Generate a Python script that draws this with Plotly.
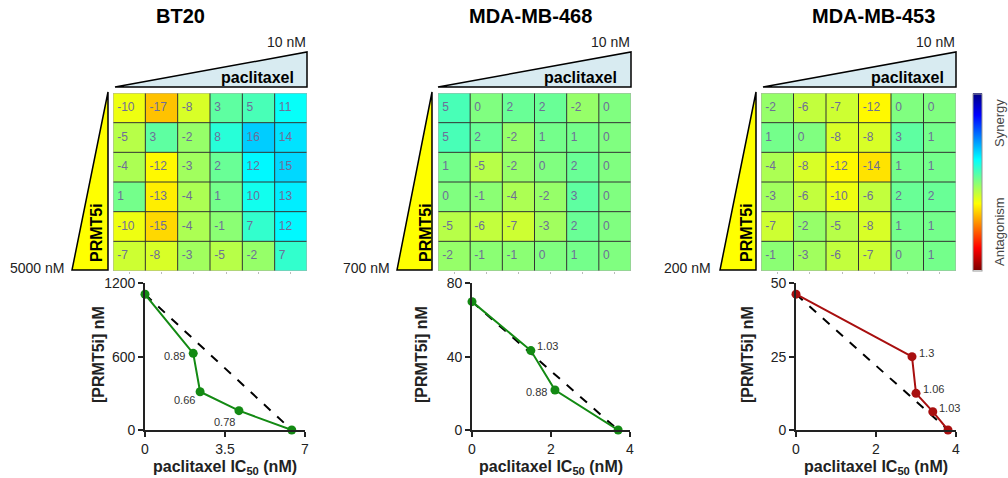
import plotly.graph_objects as go

# ---------------- data ----------------
cell_lines = ["BT20", "MDA-MB-468", "MDA-MB-453"]
prmt_max_labels = ["5000 nM", "700 nM", "200 nM"]
pac_max_label = "10 nM"

bt20_grid = [[-10, -17, -8, 3, 5, 11],
             [-5, 3, -2, 8, 16, 14],
             [-4, -12, -3, 2, 12, 15],
             [1, -13, -4, 1, 10, 13],
             [-10, -15, -4, -1, 7, 12],
             [-7, -8, -3, -5, -2, 7]]
mda468_grid = [[5, 0, 2, 2, -2, 0],
               [5, 2, -2, 1, 1, 0],
               [1, -5, -2, 0, 2, 0],
               [0, -1, -4, -2, 3, 0],
               [-5, -6, -7, -3, 2, 0],
               [-2, -1, -1, 0, 1, 0]]
mda453_grid = [[-2, -6, -7, -12, 0, 0],
               [1, 0, -8, -8, 3, 1],
               [-4, -8, -12, -14, 1, 1],
               [-3, -6, -10, -6, 2, 2],
               [-7, -2, -5, -8, 1, 1],
               [-1, -3, -6, -7, 0, 1]]

bt20_x = [0, 2.11, 2.41, 4.11, 6.42]
bt20_y = [1110, 627, 313, 158, 0]
bt20_ci = ["", "0.89", "0.66", "0.78", ""]
mda468_x = [0, 1.49, 2.1, 3.7]
mda468_y = [70, 43.3, 21.8, 0]
mda468_ci = ["", "1.03", "0.88", ""]
mda453_x = [0, 2.9, 3.0, 3.42, 3.8]
mda453_y = [46.3, 25, 12.5, 6.25, 0]
mda453_ci = ["", "1.3", "1.06", "1.03", ""]

x_ranges = [[0, 7], [0, 4], [0, 4]]
x_ticks = [[0, 3.5, 7], [0, 2, 4], [0, 2, 4]]
y_ranges = [[0, 1200], [0, 80], [0, 50]]
y_ticks = [[0, 600, 1200], [0, 40, 80], [0, 25, 50]]

# ---------------- style / layout ----------------
W, H = 1008, 478
FONT = "Arial, Liberation Sans, sans-serif"
def fx(px): return px / W
def fy(py): return 1 - py / H

# MATLAB-style jet, reversed so that antagonism (negative) is red
cscale = [[0.0, "rgb(128,0,0)"], [0.125, "rgb(255,0,0)"], [0.375, "rgb(255,255,0)"],
          [0.625, "rgb(0,255,255)"], [0.875, "rgb(0,0,255)"], [1.0, "rgb(0,0,128)"]]

grids = [bt20_grid, mda468_grid, mda453_grid]
iso_x = [bt20_x, mda468_x, mda453_x]
iso_y = [bt20_y, mda468_y, mda453_y]
iso_ci = [bt20_ci, mda468_ci, mda453_ci]
line_colors = ["#138a13", "#138a13", "#a80f0f"]
# label placement: (xanchor, xshift px, yshift px)
ci_place = [[None, ("right", -6, -3), ("right", -3, -8), ("right", -2, -11), None],
            [None, ("left", 4, 5), ("right", -6, -2), None],
            [None, ("left", 5, 4), ("left", 5, 4), ("left", 4, 4), None]]

hm_x = [(113, 307), (438, 631), (761, 956)]
hm_y = (93, 271)
ln_x = [(145, 305), (472, 630), (796, 956)]
ln_y = (283.3, 430)
title_x = [180, 530, 873]
tri_pac_left = [115, 438, 763]
tri_prmt = [(108, 72), (432, 397), (756, 720)]
prmt_text_x = [96, 425, 746]
pac_text_right = [296, 619, 946]
prmt_lab_right = [66, 392, 713]
ytitle_x = [98, 421, 747]

fig = go.Figure()
layout = dict(width=W, height=H, margin=dict(l=0, r=0, t=0, b=0, autoexpand=False),
              paper_bgcolor="white", plot_bgcolor="white",
              showlegend=False, font=dict(family=FONT, color="#222"))
shapes, annos = [], []

def note(text, px, py, size, color="#222", xanchor="center", angle=0):
    return dict(text=text, x=fx(px), y=fy(py), xref="paper", yref="paper",
                xanchor=xanchor, yanchor="middle", textangle=angle,
                showarrow=False, font=dict(size=size, color=color))

for i in range(3):
    hx = f"x{2*i+1}" if i else "x"
    hy = f"y{2*i+1}" if i else "y"
    lx = f"x{2*i+2}"
    ly = f"y{2*i+2}"
    hxa = "xaxis" + (str(2*i+1) if i else "")
    hya = "yaxis" + (str(2*i+1) if i else "")
    lxa = "xaxis" + str(2*i+2)
    lya = "yaxis" + str(2*i+2)
    z = grids[i]
    n = len(z)
    fig.add_trace(go.Heatmap(z=z, x=list(range(n)), y=list(range(n)),
                             coloraxis="coloraxis", xaxis=hx, yaxis=hy,
                             hoverinfo="skip"))
    tx, ty, tt = [], [], []
    for r in range(n):
        for c in range(n):
            tx.append(c - 0.37); ty.append(r); tt.append(str(z[r][c]))
    fig.add_trace(go.Scatter(x=tx, y=ty, text=tt, mode="text",
                             textposition="middle right",
                             textfont=dict(size=12, color="#6e6e98", family=FONT),
                             xaxis=hx, yaxis=hy, hoverinfo="skip"))
    layout[hxa] = dict(domain=[fx(hm_x[i][0]), fx(hm_x[i][1])], range=[-0.5, n - 0.5],
                       showgrid=False, zeroline=False, showticklabels=False,
                       ticks="outside", ticklen=2, tickcolor="#bbb",
                       tickvals=list(range(n)), anchor=hy)
    layout[hya] = dict(domain=[fy(hm_y[1]), fy(hm_y[0])], range=[n - 0.5, -0.5],
                       showgrid=False, zeroline=False, showticklabels=False,
                       anchor=hx)
    for k in range(1, n):
        shapes.append(dict(type="line", xref=hx, yref=hy, x0=k - 0.5, x1=k - 0.5,
                           y0=-0.5, y1=n - 0.5, line=dict(color="#333333", width=1)))
        shapes.append(dict(type="line", xref=hx, yref=hy, y0=k - 0.5, y1=k - 0.5,
                           x0=-0.5, x1=n - 0.5, line=dict(color="#333333", width=1)))
    shapes.append(dict(type="rect", xref=hx, yref=hy, x0=-0.5, x1=n - 0.5,
                       y0=-0.5, y1=n - 0.5, line=dict(color="#aaaaaa", width=1)))

    # triangles
    L, R = tri_pac_left[i], hm_x[i][1]
    shapes.append(dict(type="path", xref="paper", yref="paper",
                       path=f"M {fx(L)},{fy(87)} L {fx(R)},{fy(52)} L {fx(R)},{fy(87)} Z",
                       fillcolor="#d8ebf1", line=dict(color="black", width=1.5)))
    pr, pl = tri_prmt[i]
    shapes.append(dict(type="path", xref="paper", yref="paper",
                       path=f"M {fx(pr)},{fy(92)} L {fx(pl)},{fy(270)} L {fx(pr)},{fy(270)} Z",
                       fillcolor="#ffff00", line=dict(color="black", width=1.5)))
    annos += [
        note(f"<b>{cell_lines[i]}</b>", title_x[i], 16, 20, "black"),
        note(pac_max_label, R + 1, 42, 14, xanchor="right"),
        note("<b>paclitaxel</b>", pac_text_right[i], 77, 16, "black", xanchor="right"),
        note("<b>PRMT5i</b>", prmt_text_x[i], 233, 16, "black", angle=-90),
        note(prmt_max_labels[i], prmt_lab_right[i], 268, 14, xanchor="right"),
        note("<b>[PRMT5i] nM</b>", ytitle_x[i], 355, 16, angle=-90),
        note("<b>paclitaxel IC<sub>50</sub> (nM)</b>", (ln_x[i][0] + ln_x[i][1]) / 2, 467, 16),
    ]

    # isobologram
    xs, ys, ci = iso_x[i], iso_y[i], iso_ci[i]
    fig.add_trace(go.Scatter(x=[xs[0], xs[-1]], y=[ys[0], ys[-1]], mode="lines",
                             line=dict(color="black", width=2, dash="dash"),
                             xaxis=lx, yaxis=ly, cliponaxis=False, hoverinfo="skip"))
    fig.add_trace(go.Scatter(x=xs, y=ys, mode="lines+markers",
                             line=dict(color=line_colors[i], width=2),
                             marker=dict(color=line_colors[i], size=9),
                             xaxis=lx, yaxis=ly, cliponaxis=False, hoverinfo="skip"))
    for k in range(len(ci)):
        if ci[k]:
            xa, xsft, ysft = ci_place[i][k]
            annos.append(dict(text=ci[k], x=xs[k], y=ys[k], xref=lx, yref=ly,
                              xanchor=xa, yanchor="middle", xshift=xsft, yshift=ysft,
                              showarrow=False, font=dict(size=11, color="#333")))
    layout[lxa] = dict(domain=[fx(ln_x[i][0]), fx(ln_x[i][1])], range=x_ranges[i],
                       tickvals=x_ticks[i], ticks="outside", ticklen=5, tickwidth=1.5,
                       showline=True, linecolor="#222", linewidth=1.8, tickcolor="#222",
                       showgrid=False, zeroline=False, anchor=ly,
                       tickfont=dict(size=14, color="#222"))
    layout[lya] = dict(domain=[fy(ln_y[1]), fy(ln_y[0])], range=y_ranges[i],
                       tickvals=y_ticks[i], ticks="outside", ticklen=5, tickwidth=1.5,
                       showline=True, linecolor="#222", linewidth=1.8, tickcolor="#222",
                       showgrid=False, zeroline=False, anchor=lx,
                       tickfont=dict(size=14, color="#222"))

layout["coloraxis"] = dict(colorscale=cscale, cmin=-46, cmax=46,
                           colorbar=dict(x=fx(972.5), xanchor="left", thickness=9,
                                         thicknessmode="pixels",
                                         y=fy(182), yanchor="middle", len=177 / H,
                                         lenmode="fraction", showticklabels=False,
                                         ticks="", outlinecolor="#999", outlinewidth=1,
                                         xpad=0, ypad=0))
annos += [
    note("Synergy", 1000, 123, 13, "#444", angle=-90),
    note("Antagonism", 1000, 232, 13, "#444", angle=-90),
]
layout["shapes"] = shapes
layout["annotations"] = annos
fig.update_layout(**layout)
fig.write_html("out.html", config={"displayModeBar": False},
               post_script="document.body.style.margin='0';document.body.style.overflow='hidden';")
